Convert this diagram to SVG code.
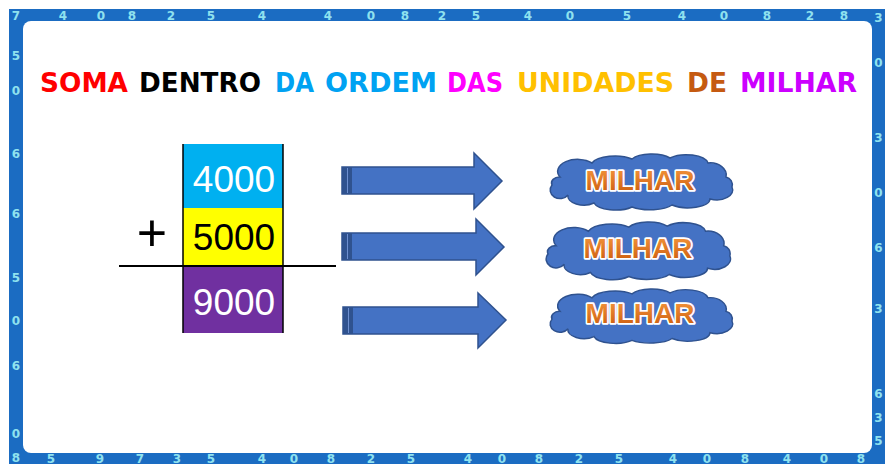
<svg xmlns="http://www.w3.org/2000/svg" width="890" height="472" viewBox="0 0 890 472">
<style>
.dg{font-family:"DejaVu Sans",sans-serif;font-weight:bold;font-size:12px;fill:#8fe2ef;text-anchor:middle}
.ttl{font-family:"DejaVu Sans","Liberation Sans",sans-serif;font-weight:bold;font-size:27px}
.num{font-family:"Liberation Sans",Arial,sans-serif;font-size:37px;text-anchor:middle}
.arw{fill:#4472c4;stroke:#2f528f;stroke-width:1.5}
.band{fill:#2f528f}
.cloud{fill:#4472c4;stroke:#2f528f;stroke-width:1.5}
.ml{font-family:"Liberation Sans",Arial,sans-serif;font-weight:bold;font-size:28px;text-anchor:middle;fill:url(#og);stroke:#ffffff;stroke-width:3.5;paint-order:stroke;stroke-linejoin:round}
</style>
<defs>
<linearGradient id="og" x1="0" y1="0" x2="0" y2="1">
<stop offset="0" stop-color="#f79a40"/>
<stop offset="1" stop-color="#c9580a"/>
</linearGradient>
<path id="cl" d="M8 22 A20 12 0 0 1 40 8 A24 10 0 0 1 80 4 A22 9 0 0 1 118 3 A22 10 0 0 1 156 8 A16 12 0 0 1 174 22 A8 8 0 0 1 180 32 A16 10 0 0 1 158 44 A22 9 0 0 1 120 50 A24 8 0 0 1 80 52 A22 9 0 0 1 42 48 A16 9 0 0 1 16 40 A8 7 0 0 1 0 30 A8 6 0 0 1 8 22 Z"/>
</defs>
<g id="frame">
<rect x="9" y="9" width="876" height="455" fill="#1b6cc2"/>
<rect x="23" y="21" width="849" height="432" rx="8" fill="#ffffff"/>
<g>
<text class="dg" x="63" y="19.5">4</text><text class="dg" x="101" y="19.5">0</text><text class="dg" x="132" y="19.5">8</text><text class="dg" x="171" y="19.5">2</text><text class="dg" x="211" y="19.5">5</text><text class="dg" x="262" y="19.5">4</text><text class="dg" x="328" y="19.5">4</text><text class="dg" x="371" y="19.5">0</text><text class="dg" x="405" y="19.5">8</text><text class="dg" x="442" y="19.5">2</text><text class="dg" x="476" y="19.5">5</text><text class="dg" x="528" y="19.5">4</text><text class="dg" x="570" y="19.5">0</text><text class="dg" x="627" y="19.5">5</text><text class="dg" x="682" y="19.5">4</text><text class="dg" x="724" y="19.5">0</text><text class="dg" x="767" y="19.5">8</text><text class="dg" x="810" y="19.5">2</text><text class="dg" x="844" y="19.5">8</text>
<text class="dg" x="51" y="462.5">5</text><text class="dg" x="100" y="462.5">9</text><text class="dg" x="140" y="462.5">7</text><text class="dg" x="177" y="462.5">3</text><text class="dg" x="211" y="462.5">5</text><text class="dg" x="262" y="462.5">4</text><text class="dg" x="294" y="462.5">0</text><text class="dg" x="331" y="462.5">8</text><text class="dg" x="371" y="462.5">2</text><text class="dg" x="411" y="462.5">5</text><text class="dg" x="468" y="462.5">4</text><text class="dg" x="502" y="462.5">0</text><text class="dg" x="539" y="462.5">8</text><text class="dg" x="579" y="462.5">2</text><text class="dg" x="619" y="462.5">5</text><text class="dg" x="673" y="462.5">4</text><text class="dg" x="707" y="462.5">0</text><text class="dg" x="745" y="462.5">8</text><text class="dg" x="787" y="462.5">4</text><text class="dg" x="824" y="462.5">0</text><text class="dg" x="861" y="462.5">8</text>
<text class="dg" x="16" y="20">7</text><text class="dg" x="16" y="60">5</text><text class="dg" x="16" y="95">0</text><text class="dg" x="16" y="158">6</text><text class="dg" x="16" y="218">6</text><text class="dg" x="16" y="282">5</text><text class="dg" x="16" y="325">0</text><text class="dg" x="16" y="370">6</text><text class="dg" x="16" y="438">0</text><text class="dg" x="16" y="462">8</text>
<text class="dg" x="878.5" y="22">3</text><text class="dg" x="878.5" y="67">0</text><text class="dg" x="878.5" y="142">3</text><text class="dg" x="878.5" y="197">0</text><text class="dg" x="878.5" y="252">6</text><text class="dg" x="878.5" y="313">3</text><text class="dg" x="878.5" y="398">6</text><text class="dg" x="878.5" y="422">3</text><text class="dg" x="878.5" y="445">5</text>
</g>
</g>
<g id="title">
<text class="ttl" y="92"><tspan x="40" textLength="88" lengthAdjust="spacingAndGlyphs" fill="#ff0000">SOMA</tspan><tspan x="139" textLength="122" lengthAdjust="spacingAndGlyphs" fill="#000000">DENTRO</tspan><tspan x="275" textLength="39" lengthAdjust="spacingAndGlyphs" fill="#00a2f2">DA</tspan><tspan x="325" textLength="112" lengthAdjust="spacingAndGlyphs" fill="#00a2f2">ORDEM</tspan><tspan x="447" textLength="56" lengthAdjust="spacingAndGlyphs" fill="#ff00ff">DAS</tspan><tspan x="517" textLength="157" lengthAdjust="spacingAndGlyphs" fill="#ffc000">UNIDADES</tspan><tspan x="687" textLength="40" lengthAdjust="spacingAndGlyphs" fill="#c55a11">DE</tspan><tspan x="740" textLength="117" lengthAdjust="spacingAndGlyphs" fill="#cc00ff">MILHAR</tspan></text>
</g>
<g id="n4000">
<rect x="183" y="144" width="100" height="64" fill="#00b0f0"/>
<text class="num" x="234" y="192" fill="#ffffff">4000</text>
</g>
<g id="n5000">
<rect x="183" y="208" width="100" height="58" fill="#ffff00"/>
<text class="num" x="234" y="250" fill="#000000">5000</text>
</g>
<g id="n9000">
<rect x="183" y="266" width="100" height="67" fill="#7030a0"/>
<text class="num" x="234" y="315" fill="#ffffff">9000</text>
</g>
<g id="sum">
<line x1="183" y1="144" x2="183" y2="333" stroke="#000" stroke-width="1.5"/>
<line x1="283" y1="144" x2="283" y2="333" stroke="#000" stroke-width="1.5"/>
<line x1="119" y1="266" x2="336" y2="266" stroke="#000" stroke-width="2"/>
<text x="152" y="251" font-family="Liberation Sans, Arial, sans-serif" font-size="52" text-anchor="middle" fill="#000">+</text>
</g>
<g id="connectors">
<g id="a1">
<polygon class="arw" points="342,167 474,167 474,153 502,181 474,209 474,194 342,194"/>
<rect class="band" x="342" y="167" width="10" height="27"/><line x1="347.5" y1="168" x2="347.5" y2="193" stroke="#6d8fd0" stroke-width="1"/>
</g>
<g id="a2">
<polygon class="arw" points="342,233 476,233 476,219 504,247 476,275 476,260 342,260"/>
<rect class="band" x="342" y="233" width="10" height="27"/><line x1="347.5" y1="234" x2="347.5" y2="259" stroke="#6d8fd0" stroke-width="1"/>
</g>
<g id="a3">
<polygon class="arw" points="343,307 478,307 478,293 506,320 478,348 478,334 343,334"/>
<rect class="band" x="343" y="307" width="10" height="27"/><line x1="348.5" y1="308" x2="348.5" y2="333" stroke="#6d8fd0" stroke-width="1"/>
</g>
</g>
<g id="cloud1">
<use href="#cl" class="cloud" transform="translate(552,155)"/>
<text class="ml" x="640" y="190">MILHAR</text>
</g>
<g id="cloud2">
<use href="#cl" class="cloud" transform="translate(548,223) scale(1.01,1.03)"/>
<text class="ml" x="638" y="258">MILHAR</text>
</g>
<g id="cloud3">
<use href="#cl" class="cloud" transform="translate(552,290) scale(1,0.97)"/>
<text class="ml" x="640" y="323">MILHAR</text>
</g>
</svg>
